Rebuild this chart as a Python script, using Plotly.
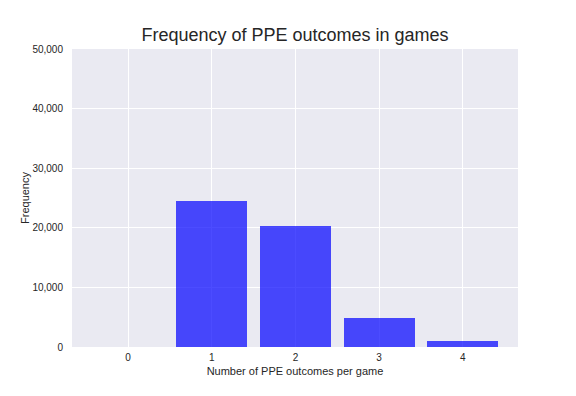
import plotly.graph_objects as go

outcomes = [0, 1, 2, 3, 4]
frequency = [0, 24500, 20300, 4870, 1000]
y_ticks = [0, 10000, 20000, 30000, 40000, 50000]
y_tick_labels = ["0", "10,000", "20,000", "30,000", "40,000", "50,000"]

W, H = 568, 388  # page body has an 8px margin

fig = go.Figure(go.Bar(
    x=outcomes, y=frequency, width=0.85,
    marker=dict(color="rgba(0,0,255,0.7)", line=dict(width=0)),
))

fig.update_layout(
    width=W, height=H,
    margin=dict(l=64, r=58, t=41, b=49),
    paper_bgcolor="white", plot_bgcolor="#EAEAF2",
    font=dict(family="Liberation Sans, Arial, sans-serif", color="#262626", size=10),
    title=dict(text="Frequency of PPE outcomes in games", x=287 / W, xanchor="center",
               y=1 - 27 / H, yanchor="middle", font=dict(size=18, color="#262626")),
    showlegend=False,
    bargap=0,
)
fig.update_xaxes(
    range=[-0.67, 4.66], tickvals=outcomes, ticktext=[str(v) for v in outcomes],
    showgrid=True, gridcolor="white", gridwidth=1, zeroline=False,
    ticks="outside", ticklen=1, tickcolor="rgba(0,0,0,0)",
    title=dict(text="Number of PPE outcomes per game", font=dict(size=11), standoff=5),
    showline=False, automargin=False,
)
fig.update_yaxes(
    range=[0, 50000], tickvals=y_ticks, ticktext=y_tick_labels,
    showgrid=True, gridcolor="white", gridwidth=1, zeroline=False,
    ticks="outside", ticklen=6, tickcolor="rgba(0,0,0,0)",
    title=dict(text="Frequency", font=dict(size=11), standoff=0),
    showline=False, automargin=False,
)

fig.write_html("out.html")
